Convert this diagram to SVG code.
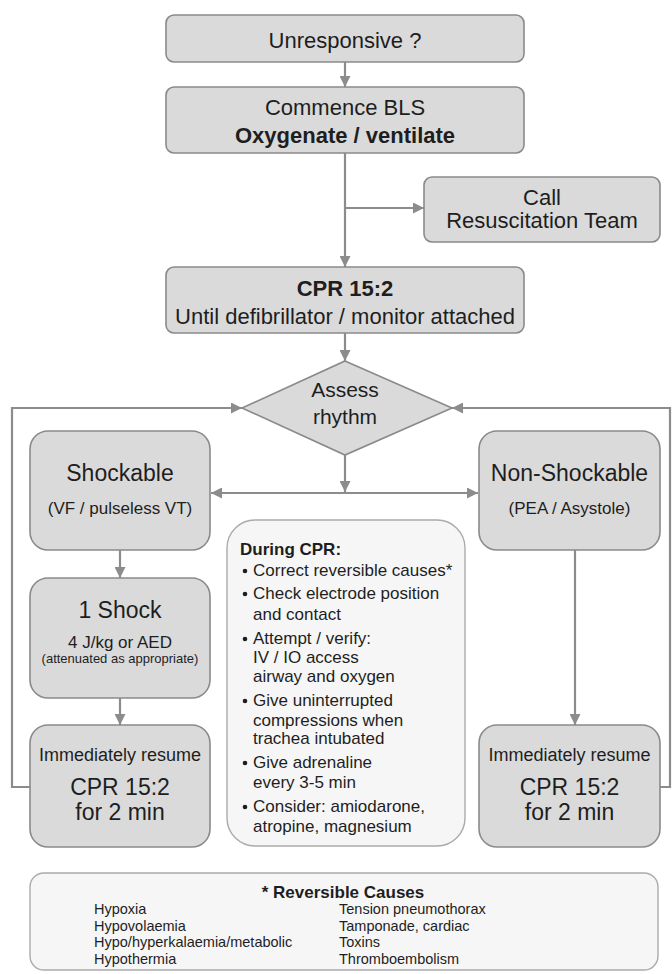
<svg xmlns="http://www.w3.org/2000/svg" width="672" height="974" viewBox="0 0 672 974">
<defs>
<marker id="ah" viewBox="0 0 10 10" refX="10" refY="5" markerWidth="11" markerHeight="11" markerUnits="userSpaceOnUse" orient="auto">
<path d="M0,0 L10,5 L0,10 Z" fill="#8c8c8c"/>
</marker>
</defs>
<style>
.box{fill:#dadada;stroke:#8a8a8a;stroke-width:1.6}
.soft{fill:#f6f6f6;stroke:#ababab;stroke-width:1.4}
.con{fill:none;stroke:#8c8c8c;stroke-width:2.2}
text{font-family:"Liberation Sans",Arial,Helvetica,sans-serif;fill:#1e1e1e}
.t22{font-size:22px;text-anchor:middle}
.t23{font-size:23px;text-anchor:middle}
.t21{font-size:21px;text-anchor:middle}
.t18{font-size:18px;text-anchor:middle}
.t17{font-size:17px;text-anchor:middle}
.t13{font-size:13px;text-anchor:middle}
.b{font-weight:bold}
.d{font-size:17px}
.r{font-size:14.5px}
</style>
<rect width="672" height="974" fill="#ffffff"/>
<g id="connectors">
<line class="con" x1="345" y1="62" x2="345" y2="87" marker-end="url(#ah)"/>
<line class="con" x1="345" y1="153" x2="345" y2="267" marker-end="url(#ah)"/>
<line class="con" x1="345" y1="208" x2="424" y2="208" marker-end="url(#ah)"/>
<line class="con" x1="345" y1="333" x2="345" y2="361" marker-end="url(#ah)"/>
<line class="con" x1="345" y1="455" x2="345" y2="492" marker-end="url(#ah)"/>
<line class="con" x1="345" y1="493" x2="211" y2="493" marker-end="url(#ah)"/>
<line class="con" x1="345" y1="493" x2="478" y2="493" marker-end="url(#ah)"/>
<line class="con" x1="120" y1="550" x2="120" y2="578" marker-end="url(#ah)"/>
<line class="con" x1="120" y1="698" x2="120" y2="725" marker-end="url(#ah)"/>
<line class="con" x1="575" y1="550" x2="575" y2="725" marker-end="url(#ah)"/>
<polyline class="con" points="30,787 12,787 12,408 242,408" marker-end="url(#ah)"/>
<polyline class="con" points="660,787 670,787 670,408 452,408" marker-end="url(#ah)"/>
</g>
<g id="unresponsive">
<rect class="box" x="166" y="15" width="358" height="47" rx="8"/>
<text class="t22" x="345" y="48">Unresponsive ?</text>
</g>
<g id="bls">
<rect class="box" x="166" y="87" width="358" height="66" rx="8"/>
<text class="t22" x="345" y="115">Commence BLS</text>
<text class="t22 b" x="345" y="143">Oxygenate / ventilate</text>
</g>
<g id="call">
<rect class="box" x="424" y="177" width="236" height="65" rx="8"/>
<text class="t22" x="542" y="205">Call</text>
<text class="t22" x="542" y="228">Resuscitation Team</text>
</g>
<g id="cpr">
<rect class="box" x="166" y="267" width="358" height="66" rx="8"/>
<text class="t22 b" x="345" y="296">CPR 15:2</text>
<text class="t22" x="345" y="324">Until defibrillator / monitor attached</text>
</g>
<g id="assess">
<polygon class="box" points="345,361 452,408 345,455 242,408"/>
<text class="t21" x="345" y="397">Assess</text>
<text class="t21" x="345" y="424">rhythm</text>
</g>
<g id="shockable">
<rect class="box" x="30" y="431" width="180" height="119" rx="18"/>
<text class="t23" x="120" y="481">Shockable</text>
<text class="t17" x="120" y="514">(VF / pulseless VT)</text>
</g>
<g id="shock">
<rect class="box" x="30" y="578" width="180" height="120" rx="18"/>
<text class="t23" x="120" y="618">1 Shock</text>
<text class="t17" x="120" y="648">4 J/kg or AED</text>
<text class="t13" x="120" y="663">(attenuated as appropriate)</text>
</g>
<g id="resume-left">
<rect class="box" x="30" y="725" width="180" height="122" rx="18"/>
<text class="t18" x="120" y="761">Immediately resume</text>
<text class="t23" x="120" y="795">CPR 15:2</text>
<text class="t23" x="120" y="820">for 2 min</text>
</g>
<g id="nonshockable">
<rect class="box" x="479" y="431" width="181" height="119" rx="18"/>
<text class="t23" x="569.5" y="481">Non-Shockable</text>
<text class="t17" x="569.5" y="514">(PEA / Asystole)</text>
</g>
<g id="resume-right">
<rect class="box" x="479" y="725" width="181" height="122" rx="18"/>
<text class="t18" x="569.5" y="761">Immediately resume</text>
<text class="t23" x="569.5" y="795">CPR 15:2</text>
<text class="t23" x="569.5" y="820">for 2 min</text>
</g>
<g id="during-cpr">
<rect class="soft" x="227" y="520" width="238" height="326" rx="28"/>
<text class="d b" x="240" y="555">During CPR:</text>
<g fill="#1e1e1e">
<circle cx="245" cy="571" r="2.3"/>
<circle cx="245" cy="594" r="2.3"/>
<circle cx="245" cy="639" r="2.3"/>
<circle cx="245" cy="701" r="2.3"/>
<circle cx="245" cy="763" r="2.3"/>
<circle cx="245" cy="807" r="2.3"/>
</g>
<text class="d" x="253" y="576">Correct reversible causes*</text>
<text class="d" x="253" y="599">Check electrode position</text>
<text class="d" x="253" y="620">and contact</text>
<text class="d" x="253" y="644">Attempt / verify:</text>
<text class="d" x="253" y="663">IV / IO access</text>
<text class="d" x="253" y="682">airway and oxygen</text>
<text class="d" x="253" y="706">Give uninterrupted</text>
<text class="d" x="253" y="726">compressions when</text>
<text class="d" x="253" y="744">trachea intubated</text>
<text class="d" x="253" y="768">Give adrenaline</text>
<text class="d" x="253" y="788">every 3-5 min</text>
<text class="d" x="253" y="812">Consider: amiodarone,</text>
<text class="d" x="253" y="832">atropine, magnesium</text>
</g>
<g id="reversible-causes">
<rect class="soft" x="30" y="873" width="628" height="97" rx="14"/>
<text class="t17 b" x="343" y="898">* Reversible Causes</text>
<text class="r" x="94" y="914">Hypoxia</text>
<text class="r" x="94" y="931">Hypovolaemia</text>
<text class="r" x="94" y="947">Hypo/hyperkalaemia/metabolic</text>
<text class="r" x="94" y="964">Hypothermia</text>
<text class="r" x="339" y="914">Tension pneumothorax</text>
<text class="r" x="339" y="931">Tamponade, cardiac</text>
<text class="r" x="339" y="947">Toxins</text>
<text class="r" x="339" y="964">Thromboembolism</text>
</g>
</svg>
